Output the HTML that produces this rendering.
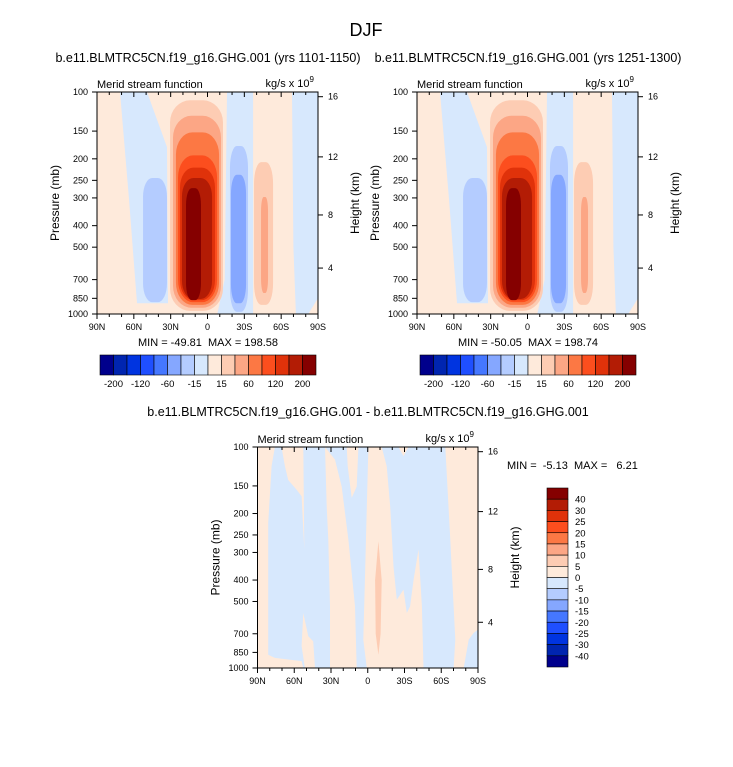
<!DOCTYPE html>
<html><head><meta charset="utf-8"><style>
body{margin:0;background:#fff}
svg text{font-family:"Liberation Sans",sans-serif;fill:#000}
</style></head><body>
<svg id="fig" width="733" height="762" viewBox="0 0 733 762" xmlns="http://www.w3.org/2000/svg">
<text x="366" y="36" font-size="18" text-anchor="middle">DJF</text>
<text x="208" y="62" font-size="12.5" text-anchor="middle">b.e11.BLMTRC5CN.f19_g16.GHG.001 (yrs 1101-1150)</text>
<text x="528" y="62" font-size="12.5" text-anchor="middle">b.e11.BLMTRC5CN.f19_g16.GHG.001 (yrs 1251-1300)</text>
<text x="368" y="416" font-size="12.5" text-anchor="middle">b.e11.BLMTRC5CN.f19_g16.GHG.001 - b.e11.BLMTRC5CN.f19_g16.GHG.001</text>
<text x="208" y="346" font-size="11" text-anchor="middle" xml:space="preserve">MIN = -49.81  MAX = 198.58</text>
<text x="528" y="346" font-size="11" text-anchor="middle" xml:space="preserve">MIN = -50.05  MAX = 198.74</text>
<text x="507" y="469" font-size="11" xml:space="preserve">MIN =  -5.13  MAX =   6.21</text>
</svg>
<script>
const NS='http://www.w3.org/2000/svg';
const svg=document.getElementById('fig');
const fullColors=['#00008c','#0025b0','#0034e0','#1f4fff','#4577ff','#85a7ff','#b4ccff','#d7e8fd','#feeadb','#fdccb3','#fca685','#fc7844','#fc4e1e','#e0320a','#b31c05','#850000'];
const fullLabels=['-200','-120','-60','-15','15','60','120','200'];
const diffLabels=['40','30','25','20','15','10','5','0','-5','-10','-15','-20','-25','-30','-40'];
const pressureTicks=[100,150,200,250,300,400,500,700,850,1000];
const heightTicks=[16,12,8,4];
const heightTickP=[105,196,358,621];
const latTicks=[90,60,30,0,-30,-60,-90];
const latTickLabels=['90N','60N','30N','0','30S','60S','90S'];
// Full-field cells: [level, latLeft, latRight, pTop, pBottom]
const posCells=[[9,30.5,-12.6,109,968],[10,28.1,-11,128,937],[11,25.7,-9.4,152,910],[12,24,-7.8,193,884],[13,22.4,-6.1,219,866],[14,20.8,-3.7,244,856],[15,17.5,5.3,271,866],[6,52.5,33,244,884],[6,-18.3,-33,175,978],[5,-19.1,-31.4,236,895],[9,-37.9,-53.4,207,910],[10,-43.6,-49.3,297,804]];
// Full-field light-blue regions (level 7): [lat,p] vertices
const negRegionA=[[71.3,100],[49.3,100],[33,177],[32.2,895],[57.4,895],[64,300]];
const negRegionB=[[-15.9,100],[-37.1,100],[-37.1,1000],[-8,1000],[-14,700]];
const negRegionC=[[-68.8,100],[-90,100],[-90,850],[-82,1000],[-72,1000],[-70,500]];
// Difference field positive regions (0..5) over negative background
const diffO1=[[90,100],[75.8,100],[78.5,122],[81.3,221],[81.3,871],[75.8,900],[54,931],[52.6,1000],[90,1000]];
const diffO2=[[70.4,100],[52.6,100],[51.8,291],[54,167],[58.1,156],[64.9,141],[67.6,122]];
const diffO3=[[52.6,564],[48.5,719],[44.5,757],[43.1,1000],[51.3,1000],[54,795]];
const diffO4=[[34.9,100],[26.7,114],[21.3,151],[15.8,263],[10.4,526],[9,1000],[30.8,1000],[30.8,526],[32.2,263],[33.5,186]];
const diffO5=[[17.2,100],[7.6,100],[9,151],[13.1,170],[16.4,122]];
const diffO6=[[-0.5,100],[-11.4,100],[-15.5,122],[-18.3,186],[-21,347],[-23.7,491],[-29.2,442],[-31.9,564],[-34.6,526],[-37.4,398],[-41.4,291],[-44.2,526],[-45.5,1000],[0.8,1000],[3.6,744],[2.2,372],[0.8,186]];
const diffO7=[[-25.1,100],[-33.3,100],[-29.2,110]];
const diffO8=[[-63.3,100],[-90,100],[-90,670],[-86.5,694],[-82.4,744],[-78.3,1000],[-70.1,1000],[-71.5,744],[-70.1,526],[-67.4,263]];
const diffO9=[[-8.7,267],[-11.4,400],[-10.5,700],[-8.7,871],[-6.5,700],[-6,400]];

function mk(tag,attrs,parent){const e=document.createElementNS(NS,tag);for(const k in attrs)e.setAttribute(k,attrs[k]);(parent||svg).appendChild(e);return e;}
function panel(x0,y0,W,H,name){
  const g=mk('g',{});
  
  
  const X=lat=>x0+(90-lat)/180*W;
  const Y=p=>y0+Math.log10(p/100)*H;
  const cp=mk('clipPath',{id:'c'+name},g);mk('rect',{x:x0,y:y0,width:W,height:H},cp);
  const plot=mk('g',{'clip-path':'url(#c'+name+')'},g);
  return {g,plot,X,Y,x0,y0,W,H};
}
function poly(P,pts,color,nm){
  const e=mk('polygon',{points:pts.map(q=>P.X(q[0]).toFixed(1)+','+P.Y(q[1]).toFixed(1)).join(' '),fill:color},P.plot);
  
  
}
function cell(P,c,nm){
  const x1=P.X(c[1]),x2=P.X(c[2]),y1=P.Y(c[3]),y2=P.Y(c[4]);const w=x2-x1,h=y2-y1;
  const e=mk('rect',{x:x1,y:y1,width:w,height:h,rx:w*0.38,ry:Math.min(h*0.15,22),fill:fullColors[c[0]]},P.plot);
  
  
}
function axes(P){
  const {g,X,Y,x0,y0,W,H}=P;
  mk('rect',{x:x0,y:y0,width:W,height:H,fill:'none',stroke:'#000','stroke-width':1},g);
  for(let lat=90;lat>=-90;lat-=10){const x=X(lat);const major=lat%30===0;const L=major?5:3;
    mk('line',{x1:x,y1:y0+H,x2:x,y2:y0+H+L,stroke:'#000'},g);
    mk('line',{x1:x,y1:y0,x2:x,y2:y0+L,stroke:'#000'},g);}
  latTicks.forEach((lat,i)=>{const t=mk('text',{x:X(lat),y:y0+H+16,'font-size':9,'text-anchor':'middle'},g);t.textContent=latTickLabels[i];
    
    });
  pressureTicks.forEach(p=>{const y=Y(p);mk('line',{x1:x0-5,y1:y,x2:x0,y2:y,stroke:'#000'},g);
    const t=mk('text',{x:x0-9,y:y+3,'font-size':9,'text-anchor':'end'},g);t.textContent=p;
    
    });
  heightTicks.forEach((h,i)=>{const y=Y(heightTickP[i]);mk('line',{x1:x0+W,y1:y,x2:x0+W+5,y2:y,stroke:'#000'},g);
    const t=mk('text',{x:x0+W+10,y:y+3,'font-size':9},g);t.textContent=h;
    
    });
  let t=mk('text',{x:x0,y:y0-4,'font-size':11},g);t.textContent='Merid stream function';
  
  
  t=mk('text',{x:x0+W-4,y:y0-5,'font-size':11,'text-anchor':'end'},g);t.innerHTML='kg/s x 10<tspan dy="-5" font-size="8">9</tspan>';
  
  
  t=mk('text',{x:0,y:0,'font-size':12,'text-anchor':'middle',transform:`translate(${x0-38},${y0+H/2}) rotate(-90)`},g);t.textContent='Pressure (mb)';
  
  
  t=mk('text',{x:0,y:0,'font-size':12,'text-anchor':'middle',transform:`translate(${x0+W+41},${y0+H/2}) rotate(-90)`},g);t.textContent='Height (km)';
  
  
}
function fullPanel(x0,name){
  const P=panel(x0,92,221,222,name);
  mk('rect',{x:x0,y:92,width:221,height:222,fill:fullColors[8]},P.plot);
  poly(P,negRegionA,fullColors[7],'neg-region');
  poly(P,negRegionB,fullColors[7],'neg-region');
  poly(P,negRegionC,fullColors[7],'neg-region');
  posCells.forEach(c=>cell(P,c,'contour-cell'));
  axes(P);
  const cb=mk('g',{});
  
  
  const bx=x0+3,bw=216/16;
  fullColors.forEach((c,i)=>mk('rect',{x:bx+i*bw,y:355,width:bw,height:20,fill:c,stroke:'#000','stroke-width':0.6},cb));
  fullLabels.forEach((l,i)=>{const t=mk('text',{x:bx+(2*i+1)*bw,y:387,'font-size':9.5,'text-anchor':'middle'},cb);t.textContent=l;
    
    });
}
fullPanel(97,'left-panel');
fullPanel(417,'right-panel');
const D=panel(257.5,447,220.5,221,'diff-panel');
mk('rect',{x:257.5,y:447,width:220.5,height:221,fill:fullColors[7]},D.plot);
[diffO1,diffO2,diffO3,diffO4,diffO5,diffO6,diffO7,diffO8].forEach(r=>poly(D,r,fullColors[8],'diff-pos-region'));
poly(D,diffO9,fullColors[9],'diff-pos-peak');
axes(D);
const vb=mk('g',{});


const vh=(667-488)/16;
fullColors.slice().reverse().forEach((c,i)=>mk('rect',{x:547,y:488+i*vh,width:21,height:vh,fill:c,stroke:'#000','stroke-width':0.6},vb));
diffLabels.forEach((l,i)=>{const t=mk('text',{x:575,y:488+(i+1)*vh+3.5,'font-size':9.5},vb);t.textContent=l;
  
  });
</script>
</body></html>
